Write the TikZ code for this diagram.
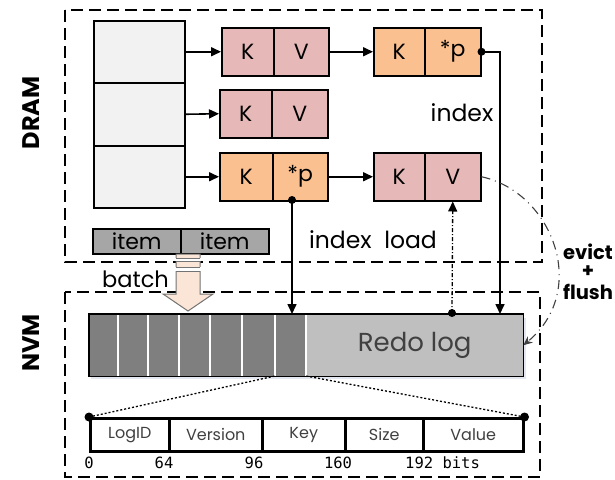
\documentclass[tikz,border=0pt]{standalone}
\usepackage{fontspec}
\setmainfont{Poppins}
\newfontfamily\bitsfont{DejaVu Sans Mono}
\usetikzlibrary{arrows.meta,calc}
\definecolor{kvpink}{HTML}{E6B9B8}
\definecolor{kporange}{HTML}{FAC090}
\definecolor{hashgray}{HTML}{F2F2F2}
\definecolor{itemgray}{HTML}{A6A6A6}
\definecolor{darklog}{HTML}{7F7F7F}
\definecolor{lightlog}{HTML}{BFBFBF}
\definecolor{batchfill}{HTML}{FBE5D6}
\definecolor{logtext}{HTML}{404040}
\definecolor{shadowblue}{HTML}{E3E8F0}
\begin{document}
\begin{tikzpicture}[x=1pt,y=-1pt,
  cell/.style={draw, line width=1.5pt, minimum height=48pt, inner sep=0pt, anchor=north west, font=\fontsize{22}{24}\selectfont},
  kvcell/.style={cell, fill=kvpink},
  kpcell/.style={cell, fill=kporange},
  hrow/.style={draw, line width=1.5pt, fill=hashgray, inner sep=0pt, anchor=north west, minimum width=91pt},
  itemcell/.style={draw, line width=1.5pt, fill=itemgray, inner sep=0pt, anchor=north west, minimum width=88pt, minimum height=25pt, font=\fontsize{22}{24}\selectfont},
  reccell/.style={draw, line width=2.5pt, inner sep=0pt, anchor=north west, minimum height=33pt, text=logtext, font=\fontsize{16}{18}\selectfont},
  bitlbl/.style={font=\bitsfont\fontsize{15.5}{18}\selectfont, inner sep=0pt},
  dbox/.style={draw, line width=1.8pt, dash pattern=on 12pt off 6pt},
  arr/.style={line width=1.6pt, -{Triangle[length=10pt,width=9pt]}},
  ldarr/.style={line width=1.3pt, dash pattern=on 4pt off 2pt on 1pt off 2pt, -{Triangle[length=10pt,width=9pt]}},
  evictarr/.style={line width=1.1pt, draw=black!75, dash pattern=on 9pt off 5pt on 1pt off 5pt, -{Stealth[length=9pt,width=8pt]}},
  lbl/.style={font=\fontsize{23.5}{26}\selectfont, inner sep=0pt},
  evlbl/.style={font=\bfseries\fontsize{19.5}{20}\selectfont, inner sep=0pt},
  biglbl/.style={font=\bfseries\fontsize{24}{28}\selectfont, inner sep=0pt, rotate=90},
  dotm/.style={fill=black}
]
\useasboundingbox (0,0) rectangle (615,479);

% dashed regions
\draw[dbox] (65,10) rectangle (542,262);
\draw[dbox] (65,292) rectangle (540,477);

% side labels
\node[biglbl] (dram) at (31,113) {DRAM};
\node[biglbl] (nvm) at (31,343) {NVM};

% hash table column
\node[hrow, minimum height=62pt] (h1) at (93,20) {};
\node[hrow, minimum height=63pt] (h2) at (93,82) {};
\node[hrow, minimum height=62pt] (h3) at (93,145) {};

% KV cells
\node[kvcell, minimum width=52pt] (k1) at (221,27) {K};
\node[kvcell, minimum width=55pt] (v1) at (273,27) {V};
\node[kvcell, minimum width=52pt] (k2) at (219,89) {K};
\node[kvcell, minimum width=56pt] (v2) at (271,89) {V};
\node[kpcell, minimum width=53pt] (k3) at (219,152) {K};
\node[kpcell, minimum width=55pt] (p3) at (272,152) {*p};
\node[kpcell, minimum width=51pt] (k4) at (373,27) {K};
\node[kpcell, minimum width=56pt] (p4) at (424,27) {*p};
\node[kvcell, minimum width=51pt] (k5) at (373,152) {K};
\node[kvcell, minimum width=56pt] (v5) at (424,152) {V};

% chain arrows
\draw[arr] (h1.east) -- (k1.west);
\draw[arr] (h2.east) -- (k2.west);
\draw[arr] (h3.east) -- (k3.west);
\draw[arr] (v1.east) -- (k4.west);
\draw[arr] (p3.east) -- (k5.west);

% items
\node[itemcell] (it1) at (92,228) {item};
\node[itemcell] (it2) at (180,228) {item};

% redo log
\fill[shadowblue] (91,318) rectangle (526,379);
\node[draw=none, fill=darklog, inner sep=0pt, anchor=north west, minimum width=217pt, minimum height=62pt] (dk) at (89,314) {};
\node[draw=none, fill=lightlog, inner sep=0pt, anchor=north west, minimum width=217pt, minimum height=62pt, text=logtext, font=\fontsize{26}{30}\selectfont] (redo) at (306,314) {Redo log};
\foreach \xx in {118,148,179,210,242,275,306}
  \draw[white, line width=1.2pt] (\xx,314) -- (\xx,376);
\draw[line width=1.5pt] (dk.north west) rectangle (redo.south east);

% batch arrow
\draw[draw=black!55, fill=batchfill, line width=1pt]
  (176,254) -- (200,254) -- (200,294) -- (213,294) -- (188,311) -- (163,294) -- (176,294) -- cycle;
\fill[white] (175,258) rectangle (201,261);
\fill[white] (175,267) rectangle (201,271);
\draw[black!55, line width=1pt] (176,258) -- (200,258) (176,261) -- (200,261) (176,267) -- (200,267) (176,271) -- (200,271);
\node[lbl, anchor=west, font=\fontsize{22.5}{26}\selectfont] (batch) at (102,279) {batch};

% index pointers
\coordinate (idxend) at (500,314);
\draw[arr] (p4.east) -| (idxend);
\fill[dotm] (p4.east) circle (4);
\coordinate (p3dot) at (292,200);
\coordinate (p3end) at (292,314);
\draw[arr] (p3dot) -- (p3end);
\fill[dotm] (p3dot) circle (4);

% index load
\coordinate (ldot) at (452,313);
\draw[ldarr] (ldot) -- (v5.south);
\fill[dotm] (ldot) circle (4);

\node[lbl] (idxlbl) at (462,113) {index};
\node[lbl] (idxload) at (373,240) {index\ \ load};

% evict + flush
\draw[evictarr] (v5.east) .. controls (552,192) and (590,290) .. (redo.east);
\node[evlbl] (evict) at (588,252) {evict};
\node[evlbl] (plus) at (588,272) {+};
\node[evlbl] (flush) at (588,292) {flush};

% record layout
\node[reccell, minimum width=79pt] (f1) at (89,417) {LogID};
\node[reccell, minimum width=93pt] (f2) at (168,417) {Version};
\node[reccell, minimum width=83pt] (f3) at (261,417) {Key};
\node[reccell, minimum width=78pt] (f4) at (344,417) {Size};
\node[reccell, minimum width=100pt] (f5) at (422,417) {Value};
\coordinate (c7l) at (275,376);
\coordinate (c7r) at (306,376);
\draw[line width=1.3pt, dash pattern=on 2pt off 2pt] (f1.north west) -- (c7l);
\draw[line width=1.3pt, dash pattern=on 2pt off 2pt] (f5.north east) -- (c7r);
\fill[dotm] (f1.north west) circle (4.5);
\fill[dotm] (f5.north east) circle (4.5);

% bit offsets
\node[bitlbl] (b0) at (89,463) {0};
\node[bitlbl] (b64) at (164,463) {64};
\node[bitlbl] (b96) at (254,463) {96};
\node[bitlbl] (b160) at (338,463) {160};
\node[bitlbl, anchor=west] (b192) at (405,463) {192 bits};
\end{tikzpicture}
\end{document}
